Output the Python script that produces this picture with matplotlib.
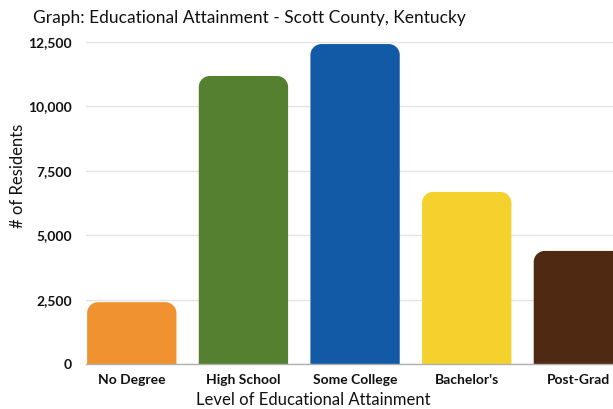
import matplotlib
matplotlib.use("Agg")
import matplotlib.pyplot as plt
from matplotlib.path import Path
from matplotlib.patches import PathPatch
from matplotlib.ticker import FuncFormatter

categories = ["No Degree", "High School", "Some College", "Bachelor's", "Post-Grad"]
residents = [2400, 11180, 12420, 6680, 4390]
colors = ["#F0922F", "#548030", "#1259A6", "#F5D12E", "#4F2912"]
yticks = [0, 2500, 5000, 7500, 10000, 12500]

plt.rcParams["font.family"] = ["Lato", "DejaVu Sans"]

fig = plt.figure(figsize=(6.13, 4.09), dpi=100)
ax = fig.add_axes([0.1403, 0.110, 0.8597, 0.7873])

bars = ax.bar(range(len(categories)), residents, width=0.8, color=colors)
ax.set_xlim(-0.41, 4.31)
ax.set_ylim(0, 12500)

# replace the plain rectangles with bars whose top corners are rounded
fig.canvas.draw()
px_per_x = ax.transData.transform((1, 0))[0] - ax.transData.transform((0, 0))[0]
px_per_y = ax.transData.transform((0, 1))[1] - ax.transData.transform((0, 0))[1]
r_px = 11
rx = r_px / px_per_x
ry = r_px / px_per_y
k = 0.5523
for rect, c in zip(bars, colors):
    x0, y0 = rect.get_x(), rect.get_y()
    w, h = rect.get_width(), rect.get_height()
    x1, y1 = x0 + w, y0 + h
    verts = [
        (x0, y0), (x0, y1 - ry),
        (x0, y1 - ry + k * ry), (x0 + rx - k * rx, y1), (x0 + rx, y1),
        (x1 - rx, y1),
        (x1 - rx + k * rx, y1), (x1, y1 - ry + k * ry), (x1, y1 - ry),
        (x1, y0), (x0, y0),
    ]
    codes = [Path.MOVETO, Path.LINETO,
             Path.CURVE4, Path.CURVE4, Path.CURVE4,
             Path.LINETO,
             Path.CURVE4, Path.CURVE4, Path.CURVE4,
             Path.LINETO, Path.CLOSEPOLY]
    patch = PathPatch(Path(verts, codes), facecolor=c, edgecolor="none",
                      zorder=3, clip_on=True)
    ax.add_patch(patch)
    rect.set_visible(False)

ax.set_yticks(yticks)
ax.yaxis.set_major_formatter(FuncFormatter(lambda v, p: f"{int(v):,}"))
ax.set_xticks(range(len(categories)))
ax.set_xticklabels(categories)
ax.grid(axis="y", color="#e4e4e4", linewidth=1, zorder=0)
ax.set_axisbelow(True)
for s in ["top", "right", "left"]:
    ax.spines[s].set_visible(False)
ax.spines["bottom"].set_color("#b0b0b0")
ax.spines["bottom"].set_linewidth(1)
ax.spines["bottom"].set_zorder(4)
ax.tick_params(axis="both", length=0, labelsize=10, colors="#111111")
ax.tick_params(axis="y", pad=10)
ax.tick_params(axis="x", pad=7)
for lbl in ax.get_xticklabels() + ax.get_yticklabels():
    lbl.set_fontweight("bold")

ax.set_ylabel("# of Residents", fontsize=12, color="#111111")
ax.yaxis.set_label_coords(-0.114, 0.584)
ax.set_xlabel("Level of Educational Attainment", fontsize=12, color="#111111")
ax.xaxis.set_label_coords(0.431, -0.086)

fig.text(33 / 613, 1 - 18 / 409, "Graph: Educational Attainment - Scott County, Kentucky",
         fontsize=12.5, color="#111111", ha="left", va="center")

fig.savefig("out.png", dpi=100)
